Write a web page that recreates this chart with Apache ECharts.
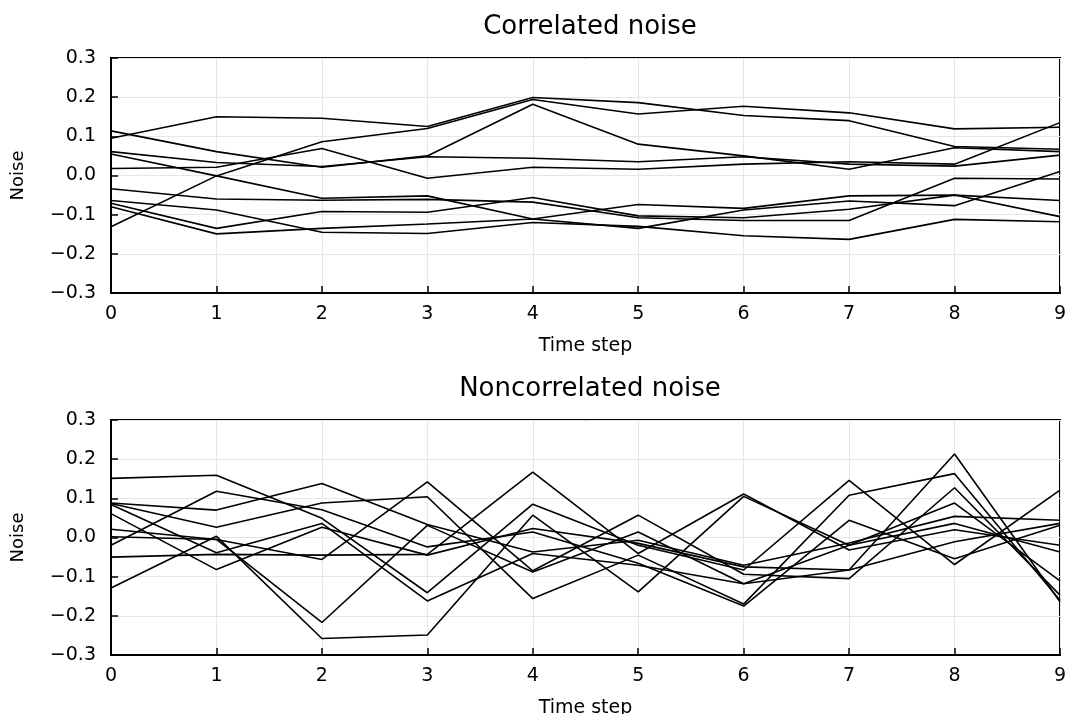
<!DOCTYPE html>
<html>
<head>
<meta charset="utf-8">
<script src="https://cdn.jsdelivr.net/npm/echarts@6/dist/echarts.min.js"></script>
<style>
  html, body { margin: 0; padding: 0; background: #fff; }
  #chart { width: 1066px; height: 714px; }
</style>
</head>
<body>
<div id="chart"></div>
<script>
const timeSteps = [0, 1, 2, 3, 4, 5, 6, 7, 8, 9];
const yTicks = [-0.3, -0.2, -0.1, 0.0, 0.1, 0.2, 0.3];

// correlated noise, 10 runs
const corrA = [0.095, 0.150, 0.146, 0.125, 0.199, 0.186, 0.153, 0.140, 0.074, 0.067];
const corrB = [-0.131, -0.001, 0.086, 0.120, 0.194, 0.157, 0.177, 0.160, 0.119, 0.123];
const corrC = [0.114, 0.061, 0.021, 0.050, 0.182, 0.080, 0.050, 0.016, 0.071, 0.061];
const corrD = [0.061, 0.033, 0.023, 0.048, 0.044, 0.035, 0.048, 0.029, 0.024, 0.052];
const corrE = [0.018, 0.021, 0.069, -0.007, 0.021, 0.016, 0.029, 0.035, 0.029, 0.135];
const corrF = [0.055, -0.001, -0.058, -0.052, -0.111, -0.074, -0.084, -0.052, -0.050, -0.105];
const corrG = [-0.034, -0.060, -0.063, -0.061, -0.068, -0.108, -0.115, -0.115, -0.007, -0.009];
const corrH = [-0.064, -0.088, -0.145, -0.148, -0.120, -0.130, -0.154, -0.163, -0.112, -0.118];
const corrI = [-0.071, -0.135, -0.092, -0.094, -0.056, -0.103, -0.108, -0.086, -0.050, -0.064];
const corrJ = [-0.080, -0.149, -0.135, -0.124, -0.111, -0.135, -0.088, -0.065, -0.077, 0.010];

// noncorrelated noise, 10 runs
const nonA = [0.151, 0.159, 0.049, -0.141, 0.085, -0.020, -0.083, 0.146, -0.069, 0.121];
const nonB = [-0.020, 0.118, 0.071, -0.024, 0.014, -0.066, -0.175, 0.044, -0.054, 0.031];
const nonC = [0.088, 0.070, 0.138, 0.033, -0.037, -0.007, -0.071, -0.014, 0.054, 0.044];
const nonD = [0.087, 0.026, 0.088, 0.104, -0.156, -0.045, -0.170, 0.108, 0.163, -0.160];
const nonE = [-0.129, 0.003, -0.258, -0.249, 0.057, -0.139, 0.105, -0.020, 0.088, -0.111];
const nonF = [0.002, -0.005, -0.217, 0.031, -0.088, 0.014, -0.118, -0.020, 0.036, -0.037];
const nonG = [0.021, -0.005, -0.056, 0.142, -0.085, 0.057, -0.094, -0.105, 0.127, -0.147];
const nonH = [0.084, -0.039, 0.036, -0.162, -0.041, -0.071, -0.118, -0.083, -0.011, 0.036];
const nonI = [0.061, -0.082, 0.026, -0.045, 0.023, -0.015, -0.075, -0.083, 0.213, -0.164];
const nonJ = [-0.050, -0.043, -0.045, -0.043, 0.167, -0.041, 0.111, -0.032, 0.020, -0.020];

const corrRuns = [corrA, corrB, corrC, corrD, corrE, corrF, corrG, corrH, corrI, corrJ];
const nonRuns = [nonA, nonB, nonC, nonD, nonE, nonF, nonG, nonH, nonI, nonJ];

const font = 'DejaVu Sans';
const fmtY = v => (v < -1e-9 ? '\u2212' : '') + Math.abs(v).toFixed(1);

const chart = echarts.init(document.getElementById('chart'));

const makeX = (gridIndex) => ({
  type: 'value',
  gridIndex: gridIndex,
  min: timeSteps[0],
  max: timeSteps[timeSteps.length - 1],
  interval: 1,
  name: 'Time step',
  nameLocation: 'middle',
  nameGap: 44,
  nameTextStyle: { fontFamily: font, fontSize: 19, color: '#000' },
  axisLine: { show: true, onZero: false, lineStyle: { color: '#000', width: 2 } },
  axisTick: { show: true, inside: true, length: 7, lineStyle: { color: '#000', width: 1.5 } },
  axisLabel: { fontFamily: font, fontSize: 19, color: '#000', margin: 12 },
  splitLine: { show: true, lineStyle: { color: '#e6e6e6', width: 1 } }
});

const makeY = (gridIndex) => ({
  type: 'value',
  gridIndex: gridIndex,
  min: yTicks[0],
  max: yTicks[yTicks.length - 1],
  interval: 0.1,
  name: 'Noise',
  nameLocation: 'middle',
  nameGap: 84,
  nameRotate: 90,
  nameTextStyle: { fontFamily: font, fontSize: 18, color: '#000' },
  axisLine: { show: true, onZero: false, lineStyle: { color: '#000', width: 2 } },
  axisTick: { show: true, inside: true, length: 7, lineStyle: { color: '#000', width: 1.5 } },
  axisLabel: { fontFamily: font, fontSize: 19, color: '#000', margin: 15, formatter: fmtY },
  splitLine: { show: true, lineStyle: { color: '#e6e6e6', width: 1 } }
});

const makeSeries = (runs, idx) => runs.map(run => ({
  type: 'line',
  xAxisIndex: idx,
  yAxisIndex: idx,
  data: run.map((v, i) => [timeSteps[i], v]),
  symbol: 'none',
  silent: true,
  lineStyle: { color: '#000', width: 1.6 }
}));

const option = {
  backgroundColor: '#fff',
  animation: false,
  title: [
    { text: 'Correlated noise', left: 585, top: 9, textAlign: 'center',
      textStyle: { fontFamily: font, fontSize: 26, fontWeight: 'normal', color: '#000' } },
    { text: 'Noncorrelated noise', left: 585, top: 371, textAlign: 'center',
      textStyle: { fontFamily: font, fontSize: 26, fontWeight: 'normal', color: '#000' } }
  ],
  grid: [
    { left: 111, right: 6, top: 58, height: 235, show: true, borderColor: '#000', borderWidth: 2,
      outerBoundsMode: 'none' },
    { left: 111, right: 6, top: 420, height: 235, show: true, borderColor: '#000', borderWidth: 2,
      outerBoundsMode: 'none' }
  ],
  xAxis: [makeX(0), makeX(1)],
  yAxis: [makeY(0), makeY(1)],
  series: [...makeSeries(corrRuns, 0), ...makeSeries(nonRuns, 1)]
};

chart.setOption(option);
</script>
</body>
</html>
